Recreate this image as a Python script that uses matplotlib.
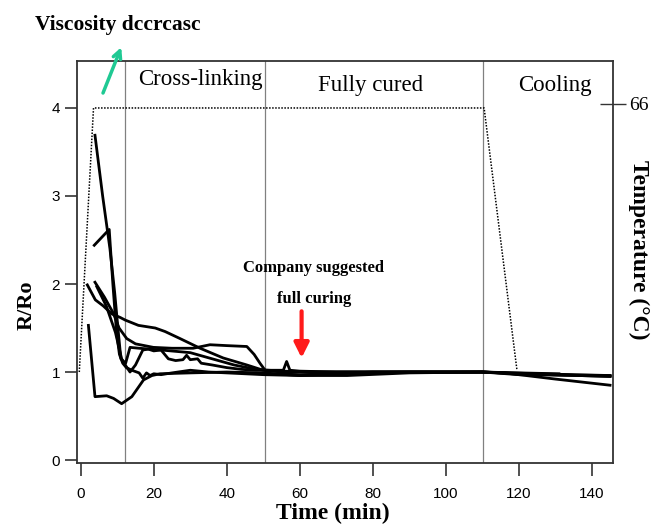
import matplotlib
matplotlib.use("Agg")
import matplotlib.pyplot as plt

# ---- data ----
c1_t = [3.9, 6.0, 8.0, 9.3, 10.3, 11.0, 12.3, 13.5, 16, 22, 30, 36, 42, 48, 55, 65, 80, 100, 110, 120, 131]
c1_v = [3.69, 3.0, 2.4, 1.9, 1.45, 1.15, 1.1, 1.28, 1.27, 1.25, 1.22, 1.15, 1.08, 1.03, 1.01, 1.0, 1.0, 1.0, 1.0, 0.99, 0.98]

c2_t = [3.7, 7.8, 8.8, 9.8, 10.6, 11.5, 12.5, 14.0, 16, 17, 18, 19, 20, 22, 25, 30, 35, 40, 50, 60, 75, 90, 110, 120, 145]
c2_v = [2.44, 2.62, 2.0, 1.45, 1.2, 1.1, 1.05, 1.02, 0.99, 0.93, 0.99, 0.96, 0.98, 0.97, 0.99, 1.02, 1.0, 0.99, 0.97, 0.96, 0.99, 1.0, 1.0, 0.97, 0.96]

c3_t = [1.8, 4.0, 6.2, 8.5, 10.8, 12.2, 15.8, 20.4, 23.1, 27.2, 32.7, 39, 45.5, 50, 55, 70, 110, 120, 145]
c3_v = [1.99, 1.82, 1.75, 1.66, 1.62, 1.59, 1.53, 1.5, 1.46, 1.38, 1.27, 1.16, 1.08, 1.02, 1.0, 1.0, 1.0, 0.98, 0.95]

c4_t = [3.9, 6.5, 8.9, 10.5, 12.6, 15, 19.9, 25, 30.8, 35.4, 40, 45.5, 47.5, 49.1, 50.5, 52, 60, 70, 80, 110, 116, 130, 145]
c4_v = [2.02, 1.85, 1.67, 1.5, 1.38, 1.32, 1.28, 1.27, 1.27, 1.31, 1.3, 1.29, 1.2, 1.1, 1.02, 0.98, 0.97, 0.98, 1.0, 1.0, 0.99, 0.92, 0.85]

c5_t = [2.1, 3.9, 7.1, 9.0, 11.2, 14.0, 17.2, 19.5, 21.7, 30, 40, 50, 60, 73, 90, 110, 125, 145]
c5_v = [1.53, 0.72, 0.73, 0.7, 0.64, 0.72, 0.91, 0.96, 0.98, 0.99, 1.0, 0.99, 0.96, 0.96, 0.99, 1.0, 0.98, 0.96]

c6_t = [4.4, 7, 9.5, 11.2, 12.5, 13.5, 15, 17, 18.5, 20, 22, 24, 26, 28, 29, 30, 32, 33, 36, 40, 44, 48, 52, 55.5, 56.4, 57.3, 60, 70, 110, 120, 145]
c6_v = [1.97, 1.75, 1.45, 1.15, 1.06, 1.0, 1.08, 1.25, 1.26, 1.24, 1.25, 1.15, 1.13, 1.14, 1.19, 1.14, 1.15, 1.1, 1.08, 1.05, 1.03, 1.02, 1.02, 1.02, 1.12, 1.02, 1.01, 1.0, 1.0, 0.98, 0.95]

temp_t = [-0.4, 3.5, 110.5, 119.5]
temp_v = [1.0, 4.0, 4.0, 1.02]

phase_lines = [12.1, 50.5, 110.2]
x_ticks = [0, 20, 40, 60, 80, 100, 120, 140]
y_ticks = [0, 1, 2, 3, 4]

serif = ["Liberation Serif", "DejaVu Serif"]
sans = ["Liberation Sans", "DejaVu Sans"]

fig = plt.figure(figsize=(6.53, 5.27), dpi=100)
ax = fig.add_axes([0.1175, 0.1214, 0.8212, 0.7629])
ax.set_xlim(-1.1, 145.8)
ax.set_ylim(-0.034, 4.534)

for xv in phase_lines:
    ax.axvline(xv, color="#808080", lw=0.9, zorder=1)

ax.plot(temp_t, temp_v, color="black", lw=1.1, ls=(0, (1, 1)), zorder=2)

for t, v in [(c1_t, c1_v), (c2_t, c2_v), (c3_t, c3_v), (c4_t, c4_v), (c5_t, c5_v), (c6_t, c6_v)]:
    ax.plot(t, v, color="black", lw=2.0, zorder=3, solid_joinstyle="round")

ax.set_xticks(x_ticks)
ax.set_yticks(y_ticks)
ax.tick_params(axis="both", direction="out", length=9, width=1.2, color="#333333",
               labelsize=11)
ax.tick_params(axis="x", pad=8)
ax.tick_params(axis="y", pad=3)
for lab in ax.get_xticklabels() + ax.get_yticklabels():
    lab.set_family(sans)
for s in ax.spines.values():
    s.set_color("#333333")
    s.set_linewidth(1.3)

ax.set_xlabel("Time (min)", family=serif, fontsize=17, fontweight="bold")
ax.xaxis.set_label_coords(0.478, -0.100)
ax.set_ylabel("R/Ro", family=serif, fontsize=16, fontweight="bold")
ax.yaxis.set_label_coords(-0.074, 0.393)

ax2 = ax.twinx()
ax2.set_ylim(ax.get_ylim())
ax2.set_yticks([4.05])
ax2.set_yticklabels(["66"], family=serif, fontsize=14)
ax2.tick_params(axis="y", direction="inout", length=19, width=1.0, color="#333333", pad=2)
for s in ax2.spines.values():
    s.set_visible(False)

fig.text(639 / 653, 1 - 250 / 527, "Temperature (°C)", family=serif, fontsize=17,
         fontweight="bold", rotation=-90, ha="center", va="center")

ax.text(15.7, 4.32, "Cross-linking", family=serif, fontsize=16.5, ha="left", va="center")
ax.text(79.3, 4.26, "Fully cured", family=serif, fontsize=16.5, ha="center", va="center")
ax.text(129.9, 4.26, "Cooling", family=serif, fontsize=16.5, ha="center", va="center")
ax.text(63.7, 2.18, "Company suggested", family=serif, fontsize=12, fontweight="bold",
        ha="center", va="center")
ax.text(64.0, 1.83, "full curing", family=serif, fontsize=12, fontweight="bold",
        ha="center", va="center")
ax.text(-12.5, 4.94, "Viscosity dccrcasc", family=serif, fontsize=15.5, fontweight="bold",
        ha="left", va="center", clip_on=False)

ax.annotate("", xy=(60.5, 1.16), xytext=(60.5, 1.69),
            arrowprops=dict(arrowstyle="-|>", color="#ff1a1a", lw=3,
                            mutation_scale=22, shrinkA=0, shrinkB=0))
ax.annotate("", xy=(11.1, 4.69), xytext=(6.1, 4.17), annotation_clip=False,
            arrowprops=dict(arrowstyle="->", color="#1fc993", lw=2.5,
                            mutation_scale=14, shrinkA=0, shrinkB=0))

fig.savefig("out.png", dpi=100)
